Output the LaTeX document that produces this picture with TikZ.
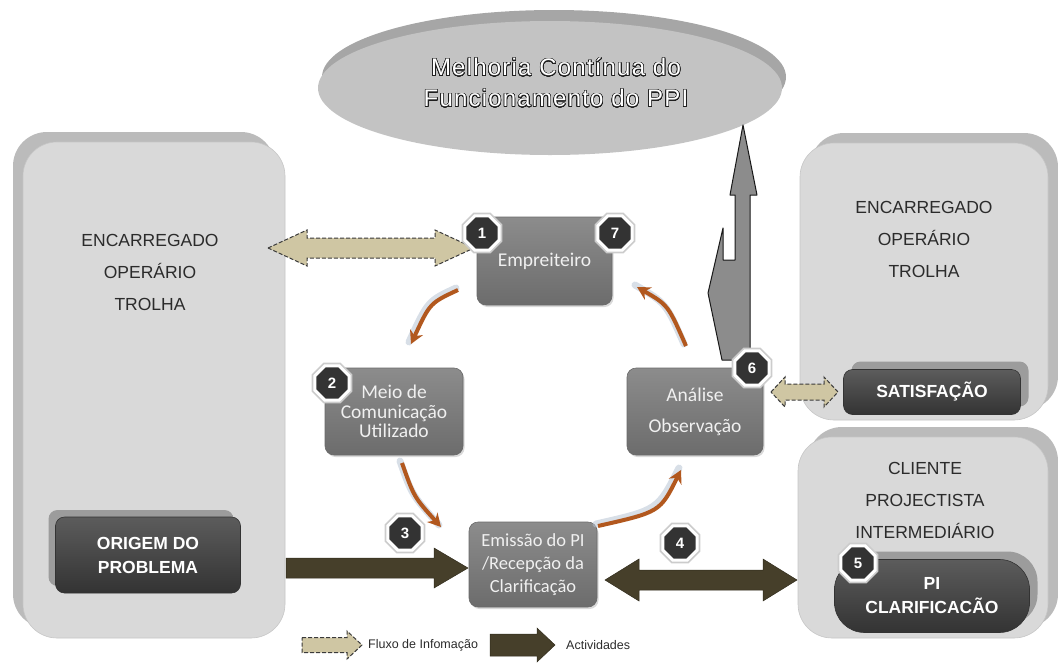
\documentclass[tikz,border=0pt]{standalone}
\usepackage{fontspec}
\setmainfont{Liberation Sans}
\newfontfamily\calfont{Carlito}
\newfontfamily\titlefont[LetterSpace=5]{Liberation Sans}
\usepackage{contour}
\contourlength{0.55pt}
\contournumber{32}
\usetikzlibrary{shapes.geometric,shadows,arrows.meta,calc}

\definecolor{panel}{HTML}{D9D9D9}
\definecolor{panelshade}{HTML}{BBBBBB}
\definecolor{panelline}{HTML}{C6C6C6}
\definecolor{goalfill}{HTML}{C3C3C3}
\definecolor{goalshade}{HTML}{A6A6A6}
\definecolor{titleedge}{HTML}{1E1E1E}
\definecolor{stepTop}{HTML}{8C8C8C}
\definecolor{stepBot}{HTML}{6C6C6C}
\definecolor{stepEdge}{HTML}{6A6A6A}
\definecolor{darkTop}{HTML}{5C5C5C}
\definecolor{darkBot}{HTML}{333333}
\definecolor{darkShade}{HTML}{9C9C9C}
\definecolor{badgefill}{HTML}{333333}
\definecolor{badgering}{HTML}{CCCCCC}
\definecolor{tanfill}{HTML}{CFC6A3}
\definecolor{tanedge}{HTML}{3A3A3A}
\definecolor{actfill}{HTML}{463F2A}
\definecolor{upfill}{HTML}{8C8C8C}
\definecolor{flow}{HTML}{B2581E}
\definecolor{glow}{HTML}{B8C4D4}
\definecolor{ink}{HTML}{2B2B2B}

% horizontal block arrows: style, from, to, shaft half, head half, head length
\newcommand\blockdouble[6]{%
  \path[#1] let \p1=(#2), \p2=(#3) in
    (\x1,\y1) -- (\x1+#6,\y1+#5) -- (\x1+#6,\y1+#4) -- (\x2-#6,\y1+#4)
    -- (\x2-#6,\y1+#5) -- (\x2,\y1) -- (\x2-#6,\y1-#5) -- (\x2-#6,\y1-#4)
    -- (\x1+#6,\y1-#4) -- (\x1+#6,\y1-#5) -- cycle;}
\newcommand\blocksingle[6]{%
  \path[#1] let \p1=(#2), \p2=(#3) in
    (\x1,\y1+#4) -- (\x2-#6,\y1+#4) -- (\x2-#6,\y1+#5) -- (\x2,\y1)
    -- (\x2-#6,\y1-#5) -- (\x2-#6,\y1-#4) -- (\x1,\y1-#4) -- cycle;}

\begin{document}
\begin{tikzpicture}[x=1pt,y=-1pt,
  panelbox/.style={rounded corners=34pt, fill=panel, draw=panelline, line width=0.6pt, inner sep=0pt},
  leftshade/.style={drop shadow={shadow xshift=-10pt, shadow yshift=10pt, fill=panelshade, opacity=1}},
  rightshade/.style={drop shadow={shadow xshift=10pt, shadow yshift=10pt, fill=panelshade, opacity=1}},
  roletext/.style={text=ink, align=center, font=\fontsize{17.5}{32}\selectfont},
  stepbox/.style={rounded corners=9pt, top color=stepTop, bottom color=stepBot, draw=stepEdge,
    line width=0.6pt, text=white!94!black, align=center, inner sep=0pt,
    font=\calfont\fontsize{19.5}{19.5}\selectfont,
    drop shadow={shadow xshift=1.5pt, shadow yshift=-2pt, opacity=.3}},
  darkbox/.style={rounded corners=9pt, top color=darkTop, bottom color=darkBot, draw=black!80,
    line width=0.6pt, text=white, align=center, inner sep=0pt,
    font=\bfseries\fontsize{17.5}{24}\selectfont},
  badge/.style={regular polygon, regular polygon sides=8, minimum size=37pt, inner sep=0pt,
    fill=badgefill, draw=white, line width=3pt, text=white,
    font=\bfseries\fontsize{15}{15}\selectfont, preaction={draw=badgering, line width=6.5pt}},
  infoarrow/.style={fill=tanfill, draw=tanedge, line width=1pt, dash pattern=on 4pt off 2pt},
  actarrow/.style={fill=actfill, draw=actfill!70!black, line width=0.5pt},
  flowcurve/.style={draw=flow, line width=4pt, -{Stealth[length=13pt,width=14pt]},
    preaction={-, draw=glow, line width=7pt, opacity=.55, line cap=round,
      transform canvas={shift={(-2pt,2pt)}}}},
  legendtext/.style={text=ink, font=\fontsize{12.5}{14}\selectfont, anchor=west, inner sep=0pt}
]
\useasboundingbox (0,0) rectangle (1058,667);

% improvement goal
\node[ellipse, minimum width=464pt, minimum height=134pt, fill=goalfill,
  drop shadow={shadow xshift=4pt, shadow yshift=11pt, fill=goalshade, opacity=1}] (goal) at (550,88) {};
\node[text=white, align=center, font=\titlefont\fontsize{24}{31}\selectfont] (goaltext) at (556,83)
  {\contour{titleedge}{Melhoria Contínua do}\\\contour{titleedge}{Funcionamento do PPI}};

% participant panels
\node[panelbox, leftshade, minimum width=262pt, minimum height=496pt] (site) at (154,390) {};
\node[panelbox, rightshade, minimum width=248pt, minimum height=277pt] (crew) at (924,281.5) {};
\node[panelbox, rightshade, minimum width=250pt, minimum height=201pt] (client) at (923,537.5) {};

\node[roletext] (sitetext) at (150,272) {ENCARREGADO\\OPERÁRIO\\TROLHA};
\node[roletext] (crewtext) at (924,239) {ENCARREGADO\\OPERÁRIO\\TROLHA};
\node[roletext] (clienttext) at (925,500) {CLIENTE\\PROJECTISTA\\INTERMEDIÁRIO};

\node[darkbox, minimum width=185pt, minimum height=76pt,
  drop shadow={shadow xshift=-7pt, shadow yshift=7pt, fill=darkShade, opacity=1}] (origin) at (148,555)
  {ORIGEM DO\\PROBLEMA};
\node[darkbox, minimum width=177pt, minimum height=45pt,
  drop shadow={shadow xshift=8pt, shadow yshift=8pt, fill=darkShade, opacity=1}] (satisf) at (932,392)
  {SATISFAÇÃO};
\node[darkbox, rounded corners=30pt, minimum width=195pt, minimum height=73pt,
  drop shadow={shadow xshift=8pt, shadow yshift=8pt, fill=darkShade, opacity=1}] (clarif) at (932,596)
  {PI\\CLARIFICACÃO};

% process steps
\node[stepbox, minimum width=135pt, minimum height=88pt] (emp) at (544.5,261) {Empreiteiro};
\node[stepbox, minimum width=138pt, minimum height=87pt] (meio) at (394,411.5)
  {Meio de\\Comunicação\\Utilizado};
\node[stepbox, minimum width=136pt, minimum height=87pt, font=\calfont\fontsize{19.5}{31}\selectfont]
  (anal) at (695,411.5) {Análise\\Observação};
\node[stepbox, minimum width=128pt, minimum height=85pt, font=\calfont\fontsize{18.5}{23}\selectfont]
  (emis) at (533,564.5) {Emissão do PI\\/Recepção da\\Clarificação};

% improvement feedback arrow
\draw[fill=upfill, draw=black!90, line width=1pt, line join=round]
  (743,125) -- (757,195) -- (750,195) -- (750,360) -- (722,360) -- (708,293)
  -- (723,228) -- (723,260) -- (735,260) -- (735,195) -- (730,195) -- cycle;

% information flows
\coordinate (infoL) at (268,248);  \coordinate (infoR) at (474,248);
\blockdouble{infoarrow}{infoL}{infoR}{10pt}{18pt}{39pt}
\coordinate (satL) at (771,392);  \coordinate (satR) at (838,392);
\blockdouble{infoarrow}{satL}{satR}{8pt}{15pt}{14pt}

% activities
\coordinate (actA) at (286,568);  \coordinate (actB) at (468,568);
\blocksingle{actarrow}{actA}{actB}{10pt}{20pt}{34pt}
\coordinate (actC) at (605,580);  \coordinate (actD) at (797,580);
\blockdouble{actarrow}{actC}{actD}{10pt}{21pt}{34pt}

% process cycle
\coordinate (c1s) at (458,290);  \coordinate (c1e) at (411,344);
\coordinate (c2s) at (402,463);  \coordinate (c2e) at (441,527);
\coordinate (c3s) at (598,526);  \coordinate (c3e) at (681,470);
\coordinate (c4s) at (686,346);  \coordinate (c4e) at (637,287);
\draw[flowcurve] (c1s) .. controls (430,303) .. (c1e);
\draw[flowcurve] (c2s) .. controls (414,497) .. (c2e);
\draw[flowcurve] (c3s) .. controls (660,512) .. (c3e);
\draw[flowcurve] (c4s) .. controls (668,305) .. (c4e);

% step numbers
\node[badge] (b1) at (482,233) {1};
\node[badge] (b7) at (615,233) {7};
\node[badge] (b2) at (332,383) {2};
\node[badge] (b6) at (752,368) {6};
\node[badge] (b3) at (405,533) {3};
\node[badge] (b4) at (680,543) {4};
\node[badge] (b5) at (858,563) {5};

% legend
\coordinate (lgA) at (302,645);  \coordinate (lgB) at (362,645);
\blocksingle{infoarrow}{lgA}{lgB}{7.5pt}{14pt}{15pt}
\node[legendtext] (lgInfo) at (368,645) {Fluxo de Infomação};
\coordinate (lgC) at (490,645);  \coordinate (lgD) at (555,645);
\blocksingle{actarrow}{lgC}{lgD}{11pt}{17pt}{18pt}
\node[legendtext] (lgAct) at (566,645) {Actividades};
\end{tikzpicture}
\end{document}
